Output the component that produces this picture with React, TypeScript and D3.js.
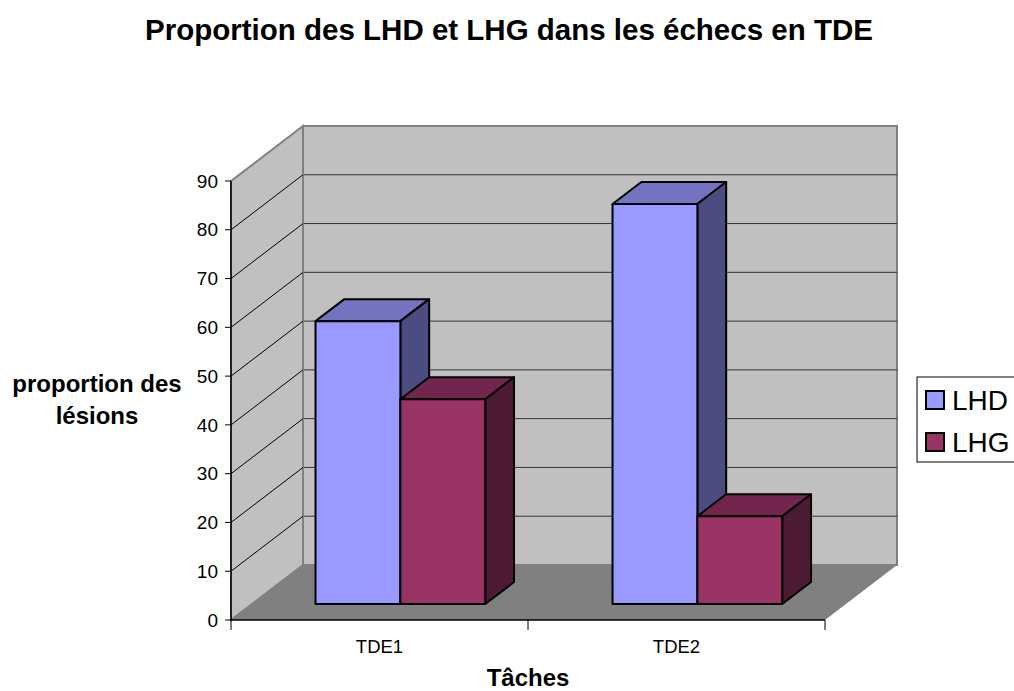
import React from "react";
import * as d3 from "d3";

const categories = ["TDE1", "TDE2"];
const series = ["LHD", "LHG"];
const valuesLHD = [58, 82];
const valuesLHG = [42, 18];
const yTicks = [0, 10, 20, 30, 40, 50, 60, 70, 80, 90];

const seriesColors: Record<string, { front: string; top: string; side: string }> = {
  LHD: { front: "#9999FF", top: "#7373C0", side: "#4C4C80" },
  LHG: { front: "#993366", top: "#73264D", side: "#4D1A33" },
};

const W = 1014;
const H = 691;
// plot front plane
const x0 = 231;
const x1 = 825;
const yBottom = 620;
const yTop = 181;
// depth offset of the back wall
const DX = 72;
const DY = -55;
// bar depth range (fraction of full depth)
const zFront = 0.29;
const zBack = 0.69;

const font = "'Liberation Sans', Arial, sans-serif";

export default function App() {
  const xScale = d3.scaleBand<string>().domain(categories).range([x0, x1]);
  const inner = d3
    .scaleBand<string>()
    .domain(series)
    .range([0, xScale.bandwidth()])
    .paddingInner(0)
    .paddingOuter(0.75);
  const yScale = d3.scaleLinear().domain([0, 90]).range([yBottom, yTop]);

  const data = categories.flatMap((c, i) => [
    { cat: c, s: "LHD", v: valuesLHD[i] },
    { cat: c, s: "LHG", v: valuesLHG[i] },
  ]);

  const pts = (arr: [number, number][]) => arr.map((p) => p.join(",")).join(" ");

  const sideWall: [number, number][] = [
    [x0, yScale(0)],
    [x0, yScale(90)],
    [x0 + DX, yScale(90) + DY],
    [x0 + DX, yScale(0) + DY],
  ];
  const floor: [number, number][] = [
    [x0, yScale(0)],
    [x1, yScale(0)],
    [x1 + DX, yScale(0) + DY],
    [x0 + DX, yScale(0) + DY],
  ];

  return (
    <svg
      width={W}
      height={H}
      style={{ position: "absolute", left: 0, top: 0, background: "#fff" }}
      fontFamily={font}
    >
      <text x={509} y={40} textAnchor="middle" fontSize={29.5} fontWeight="bold">
        Proportion des LHD et LHG dans les échecs en TDE
      </text>

      {/* back wall */}
      <rect
        x={x0 + DX}
        y={yScale(90) + DY}
        width={x1 - x0}
        height={yScale(0) - yScale(90)}
        fill="#C0C0C0"
        stroke="#808080"
        strokeWidth={2}
      />
      {yTicks.slice(1, -1).map((t) => (
        <line
          key={"bg" + t}
          x1={x0 + DX}
          x2={x1 + DX}
          y1={yScale(t) + DY}
          y2={yScale(t) + DY}
          stroke="#333"
          strokeWidth={1}
        />
      ))}

      {/* side wall */}
      <polygon points={pts(sideWall)} fill="#C0C0C0" stroke="#808080" strokeWidth={2} />
      {yTicks.slice(1, -1).map((t) => (
        <line
          key={"sg" + t}
          x1={x0}
          x2={x0 + DX}
          y1={yScale(t)}
          y2={yScale(t) + DY}
          stroke="#000"
          strokeWidth={1}
        />
      ))}

      {/* floor */}
      <polygon points={pts(floor)} fill="#808080" />

      {/* bars */}
      {data.map((d) => {
        const bx = (xScale(d.cat) ?? 0) + (inner(d.s) ?? 0) + zFront * DX;
        const bw = inner.bandwidth();
        const by0 = yScale(0) + zFront * DY;
        const by1 = yScale(d.v) + zFront * DY;
        const ddx = (zBack - zFront) * DX;
        const ddy = (zBack - zFront) * DY;
        const c = seriesColors[d.s];
        return (
          <g key={d.cat + d.s} stroke="#000" strokeWidth={2} strokeLinejoin="round">
            <polygon
              points={pts([
                [bx, by1],
                [bx + ddx, by1 + ddy],
                [bx + bw + ddx, by1 + ddy],
                [bx + bw, by1],
              ])}
              fill={c.top}
            />
            <polygon
              points={pts([
                [bx + bw, by1],
                [bx + bw + ddx, by1 + ddy],
                [bx + bw + ddx, by0 + ddy],
                [bx + bw, by0],
              ])}
              fill={c.side}
            />
            <rect x={bx} y={by1} width={bw} height={by0 - by1} fill={c.front} />
          </g>
        );
      })}

      {/* axes */}
      <line x1={x0} x2={x0} y1={yScale(0)} y2={yScale(90)} stroke="#000" strokeWidth={1.5} />
      <line x1={x0} x2={x1} y1={yScale(0)} y2={yScale(0)} stroke="#000" strokeWidth={1.5} />
      {yTicks.map((t) => (
        <g key={"yt" + t}>
          <line x1={x0 - 6} x2={x0} y1={yScale(t)} y2={yScale(t)} stroke="#000" />
          <text x={x0 - 13} y={yScale(t)} dy="0.35em" textAnchor="end" fontSize={19}>
            {t}
          </text>
        </g>
      ))}
      {[x0, ...categories.map((c) => (xScale(c) ?? 0) + xScale.bandwidth())].map((x, i) => (
        <line key={"xt" + i} x1={x} x2={x} y1={yScale(0)} y2={yScale(0) + 10} stroke="#000" />
      ))}
      {categories.map((c) => (
        <text
          key={"xl" + c}
          x={(xScale(c) ?? 0) + xScale.bandwidth() / 2}
          y={653}
          textAnchor="middle"
          fontSize={18.5}
        >
          {c}
        </text>
      ))}

      {/* axis titles */}
      <text x={528} y={686} textAnchor="middle" fontSize={24} fontWeight="bold">
        Tâches
      </text>
      <text textAnchor="middle" fontSize={24} fontWeight="bold">
        <tspan x={97} y={392}>
          proportion des
        </tspan>
        <tspan x={97} y={424}>
          lésions
        </tspan>
      </text>

      {/* legend */}
      <rect x={917} y={377} width={110} height={85} fill="#fff" stroke="#000" strokeWidth={1} />
      {series.map((s, i) => (
        <g key={"lg" + s}>
          <rect
            x={926}
            y={391 + i * 42}
            width={18}
            height={18}
            fill={seriesColors[s].front}
            stroke="#000"
            strokeWidth={2}
          />
          <text x={952} y={410 + i * 42} fontSize={28}>
            {s}
          </text>
        </g>
      ))}
    </svg>
  );
}
